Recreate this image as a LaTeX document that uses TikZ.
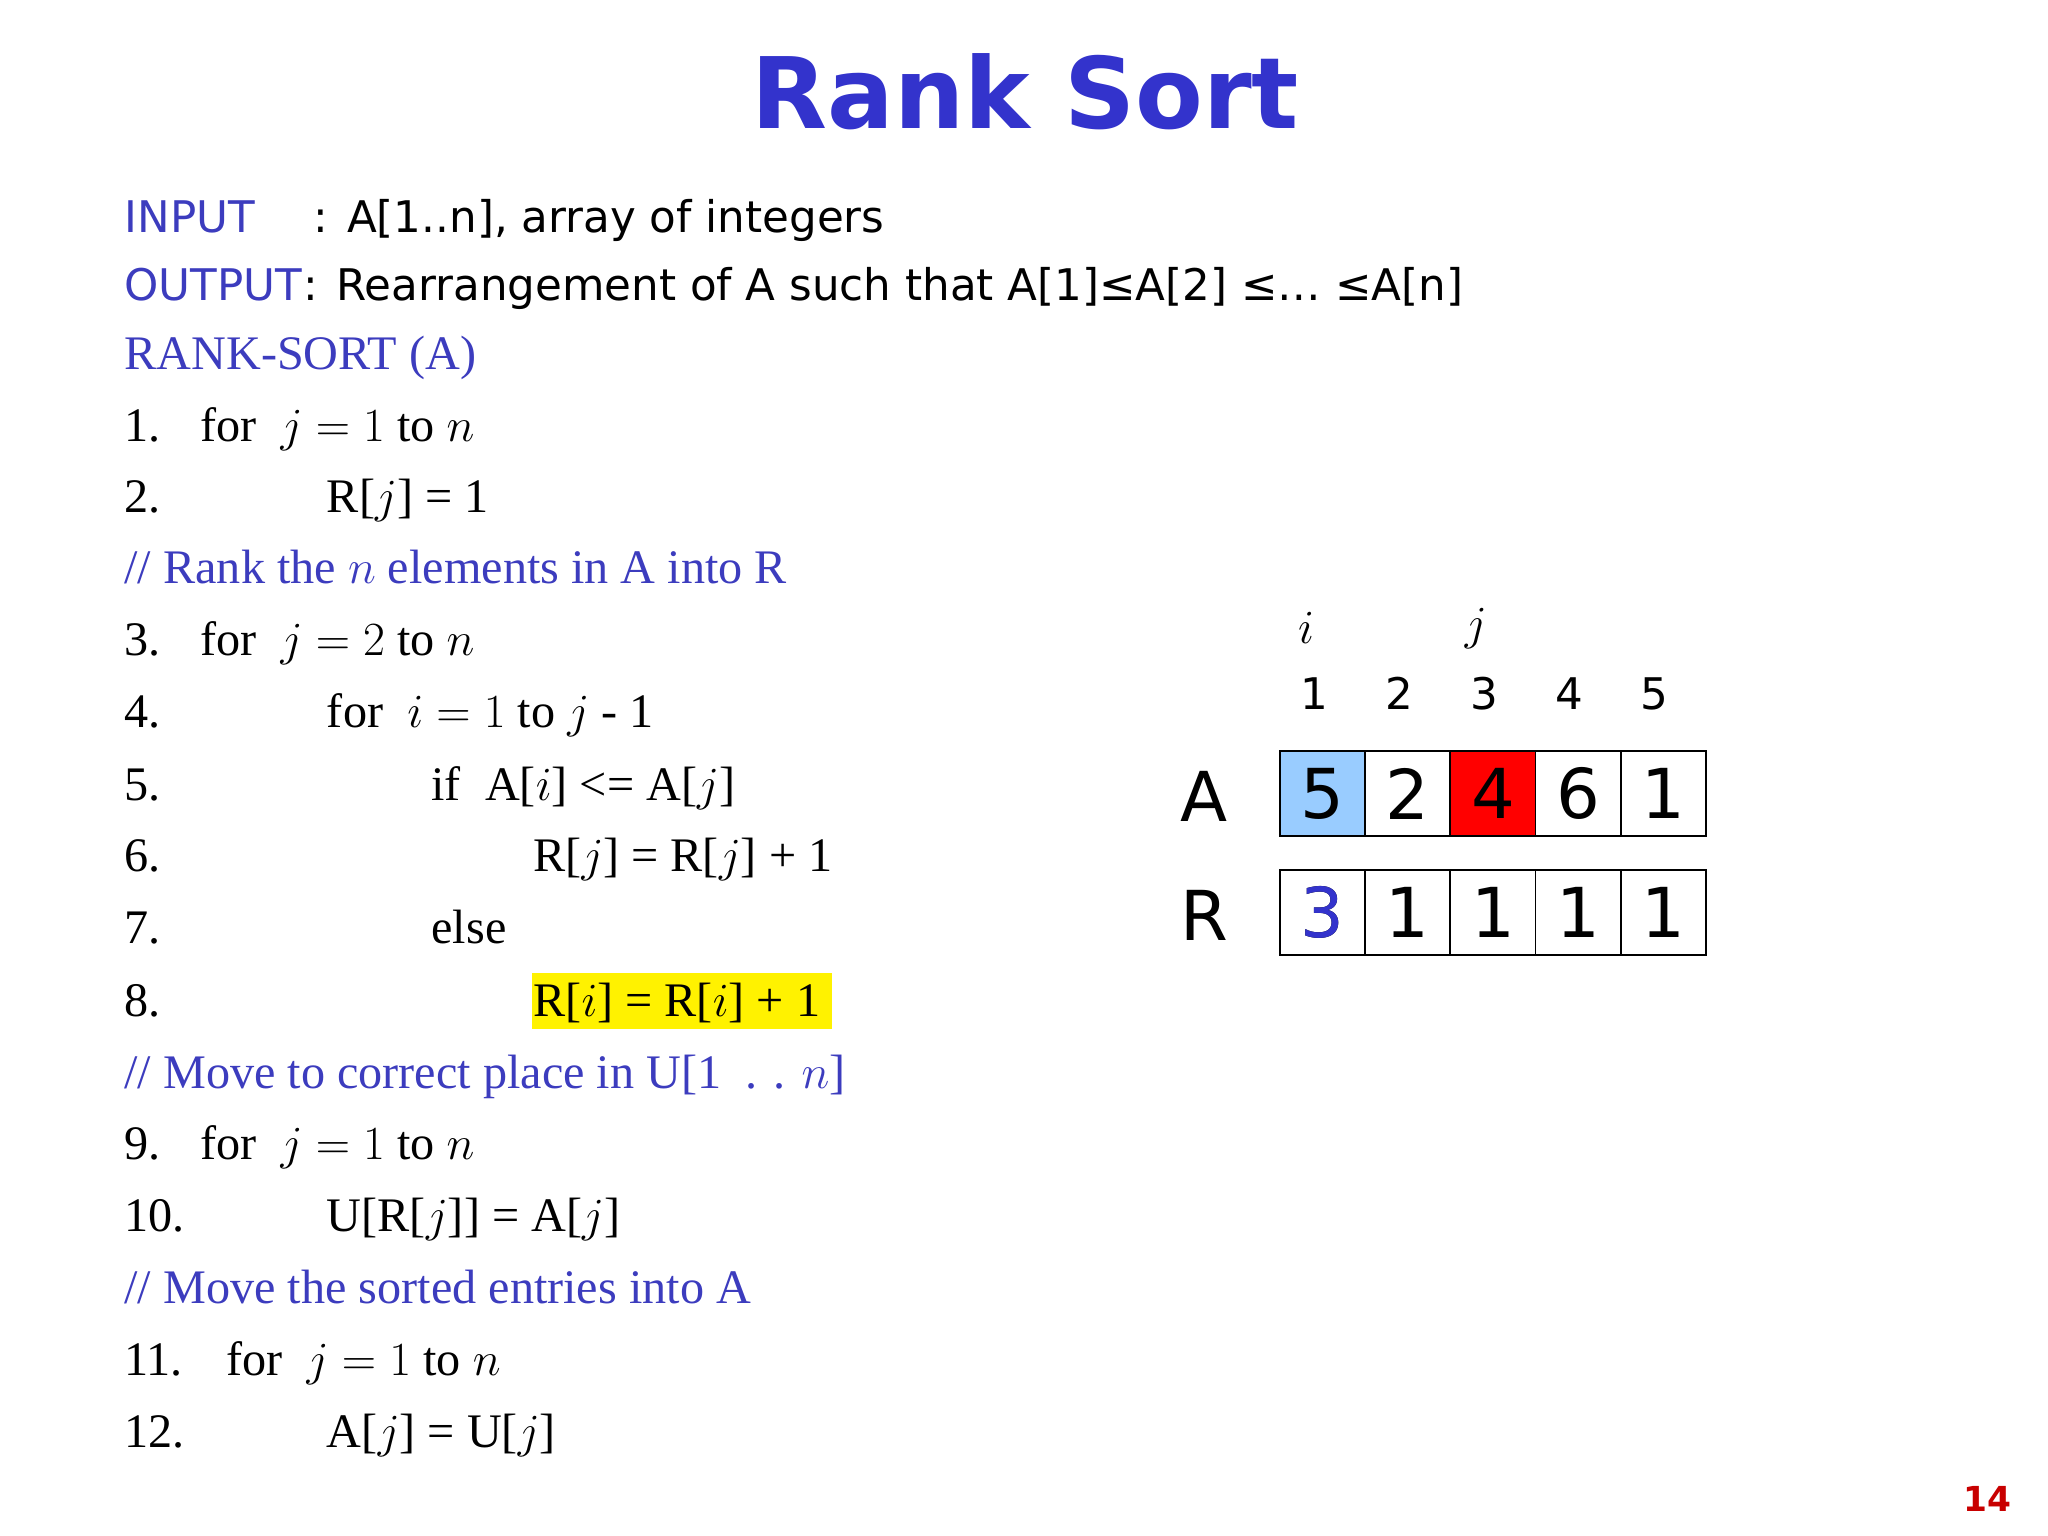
\documentclass[tikz,border=0pt]{standalone}
\usepackage{fontspec}
\setmainfont{Liberation Serif}
\newfontfamily\dv{DejaVu Sans}
\definecolor{tblue}{RGB}{51,51,204}
\definecolor{cblue}{RGB}{60,60,190}
\definecolor{lblue}{RGB}{153,204,255}
\definecolor{pred}{RGB}{200,0,0}
\begin{document}
\begin{tikzpicture}[x=0.02cm,y=-0.02cm,
  sans/.style={font=\dv\fontsize{19}{22}\selectfont,anchor=base west,inner sep=0},
  ser/.style={font=\fontsize{21}{24}\selectfont,anchor=base west,inner sep=0},
  cell/.style={draw=black,line width=0.8pt,minimum width=1.304cm,minimum height=1.3cm,inner sep=0,font=\dv\fontsize{30}{32}\selectfont},
  idx/.style={font=\dv\fontsize{19}{22}\selectfont,inner sep=0}]
\useasboundingbox (0,0) rectangle (1568,1176);
\node[font=\dv\bfseries\fontsize{43}{48}\selectfont,text=tblue] (title) at (785,70) {Rank Sort};
\node[sans,text=cblue] (in) at (95,178) {INPUT};
\node[sans] (in2) at (240,178) {: A[1..n], array of integers};
\node[sans,text=cblue] (out) at (95,230) {OUTPUT};
\node[sans] (out2) at (out.base east) {: Rearrangement of A such that A[1]≤A[2] ≤… ≤A[n]};
\node[ser,text=cblue] (rs) at (95,283) {RANK-SORT (A)};
\foreach \n/\y in {1./338,2./392,3./502,4./557,5./613,6./667,7./722,8./778,9./888,10./943,11./1053,12./1108}
  \node[ser] (n\y) at (95,\y) {\n};
\node[ser] (l1) at (153,338) {for \ $j = 1$ to $n$};
\node[ser] (l2) at (250,392) {R[$j$] = 1};
\node[ser,text=cblue] (c1) at (95,447) {// Rank the $n$ elements in A into R};
\node[ser] (l3) at (153,502) {for \ $j = 2$ to $n$};
\node[ser] (l4) at (250,557) {for \ $i = 1$ to $j$ - 1};
\node[ser] (l5) at (330,613) {if \ A[$i$] <= A[$j$]};
\node[ser] (l6) at (408,667) {R[$j$] = R[$j$] + 1};
\node[ser] (l7) at (330,722) {else};
\fill[yellow] (407,745) rectangle (637,788);
\node[ser] (l8) at (408,778) {R[$i$] = R[$i$] + 1};
\node[ser,text=cblue] (c2) at (95,833) {// Move to correct place in U[1 \ . . $n$]};
\node[ser] (l9) at (153,888) {for \ $j = 1$ to $n$};
\node[ser] (l10) at (250,943) {U[R[$j$]] = A[$j$]};
\node[ser,text=cblue] (c3) at (95,998) {// Move the sorted entries into A};
\node[ser] (l11) at (173,1053) {for \ $j = 1$ to $n$};
\node[ser] (l12) at (250,1108) {A[$j$] = U[$j$]};
% arrays
\foreach \k/\v/\r [count=\c] in {0/5/3,1/2/1,2/4/1,3/6/1,4/1/1}{
  \node[cell] (a\c) at (1012.6+65.2*\k,607.5) {\v};
  \node[cell] (r\c) at (1012.6+65.2*\k,698.5) {\r};
  \node[idx] (x\c) at (1006+65.2*\k,531) {\c};
}
\node[cell,fill=lblue] at (a1) {5};
\node[cell,fill=red] at (a3) {4};
\node[cell,text=tblue] at (r1) {3};
\node[font=\dv\fontsize{30}{32}\selectfont] (la) at (922,610) {A};
\node[font=\dv\fontsize{30}{32}\selectfont] (lr) at (922,701) {R};
\node[font=\fontsize{20}{22}\selectfont] (ii) at (1000,481) {$i$};
\node[font=\fontsize{20}{22}\selectfont] (jj) at (1130,481) {$j$};
\node[font=\dv\bfseries\fontsize{15}{18}\selectfont,text=pred] (pg) at (1522,1148) {14};
\end{tikzpicture}
\end{document}
